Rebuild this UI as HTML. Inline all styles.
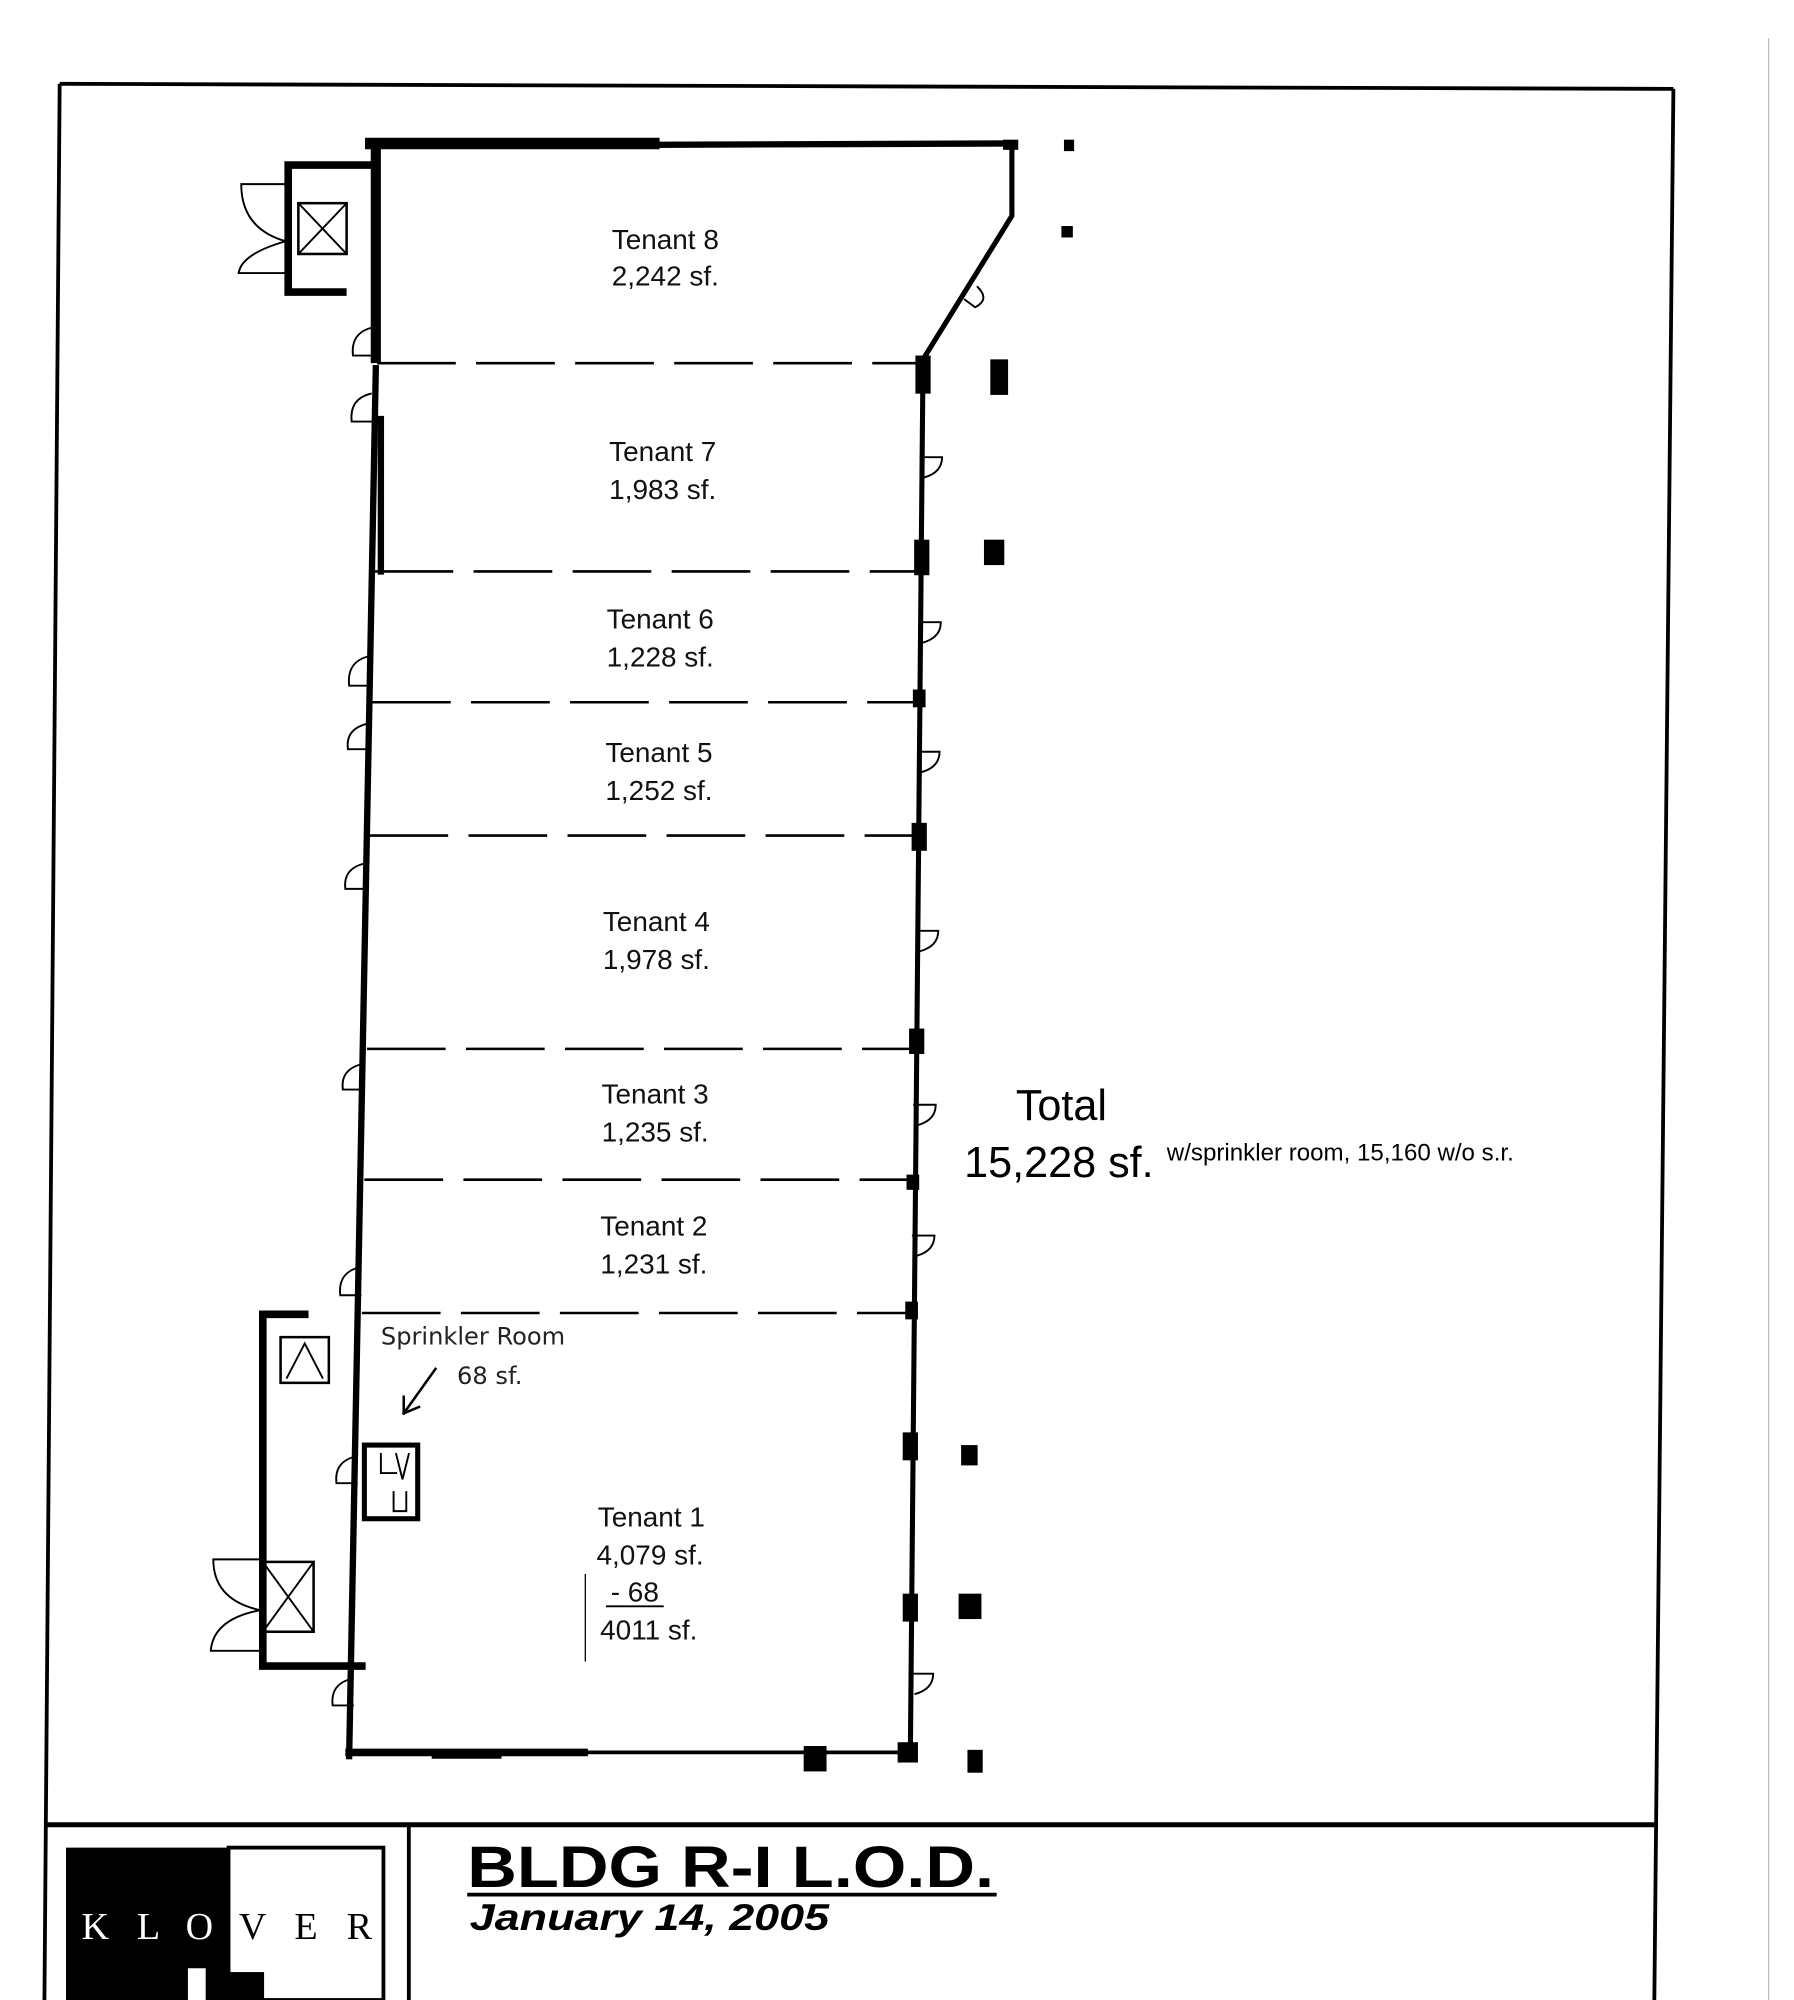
<!DOCTYPE html>
<html><head><meta charset="utf-8"><style>
html,body{margin:0;padding:0;background:#fff}
svg{display:block}
.t{font-family:"Liberation Sans Narrow","Liberation Sans",sans-serif;font-size:22px;text-anchor:middle;fill:#111}
</style></head><body>
<svg width="1794" height="2000" viewBox="0 0 1413 1575" preserveAspectRatio="none" xmlns="http://www.w3.org/2000/svg">
<rect width="1413" height="1575" fill="#fff"/>
<g stroke="#000" fill="none">
<path d="M47,66 L1318,70" stroke-width="3"/>
<path d="M47,66 L35,1575" stroke-width="3"/>
<path d="M1318,70 L1303,1575" stroke-width="3"/>
<path d="M35,1437 L1303,1437" stroke-width="4"/>
<path d="M322,1437 L322,1575" stroke-width="3"/>
<path d="M1393,30 L1393,1575" stroke="#bbb" stroke-width="1"/>
</g>
<rect x="52" y="1455" width="128" height="120" fill="#000"/>
<rect x="180" y="1455" width="122" height="120" fill="#fff" stroke="#000" stroke-width="3"/>
<rect x="180" y="1553" width="28" height="22" fill="#000"/>
<rect x="148" y="1550" width="14" height="25" fill="#fff"/>
<g font-family="Liberation Serif,serif" font-size="30" text-anchor="middle">
<text x="75" y="1527" fill="#fff">K</text><text x="117" y="1527" fill="#fff">L</text><text x="157" y="1527" fill="#fff">O</text>
<text x="199" y="1527" fill="#000">V</text><text x="241" y="1527" fill="#000">E</text><text x="283" y="1527" fill="#000">R</text>
</g>
<text x="368" y="1486" font-family="Liberation Sans,sans-serif" font-weight="bold" font-size="46" fill="#000" textLength="415" lengthAdjust="spacingAndGlyphs">BLDG R-I L.O.D.</text>
<line x1="368" y1="1492" x2="785" y2="1492" stroke="#000" stroke-width="3"/>
<text x="370" y="1520" font-family="Liberation Sans,sans-serif" font-weight="bold" font-style="italic" font-size="29" fill="#000" textLength="283" lengthAdjust="spacingAndGlyphs">January 14, 2005</text>
<g stroke="#000" fill="none" stroke-linecap="square">
<path d="M292,113 L515,113" stroke-width="9"/>
<path d="M515,114 L797,113" stroke-width="5"/>
<path d="M296,115 L296,282" stroke-width="8"/>
<path d="M797,113 L797,170 L727,283" stroke-width="4"/>
<path d="M727,283 L717,1383" stroke-width="4"/>
<path d="M296,290 L275,1383" stroke-width="5"/>
<path d="M300,330 L300,450" stroke-width="5"/>
<path d="M275,1380 L460,1380" stroke-width="6"/>
<path d="M460,1380 L720,1380" stroke-width="3"/>
<g stroke-width="2" stroke-dasharray="60,18">
<path d="M298,286 L724,286"/><path d="M296,450 L722,450"/><path d="M294,553 L721,553"/>
<path d="M292,658 L720,658"/><path d="M290,826 L719,826"/><path d="M288,929 L718,929"/><path d="M286,1034 L717,1034"/>
</g>
<path d="M296,130 L227,130 L227,230 L270,230" stroke-width="6"/>
<rect x="235" y="160" width="38" height="40" stroke-width="2"/>
<path d="M235,160 L273,200 M273,160 L235,200" stroke-width="1.5"/>
<path d="M225,145 L190,145 Q190,180 225,190 Q190,200 188,215 L225,215" stroke-width="1.5"/>
<path d="M240,1035 L207,1035 L207,1312 L285,1312" stroke-width="6"/>
<rect x="221" y="1053" width="38" height="36" stroke-width="2"/>
<path d="M226,1085 L240,1058 L254,1085" stroke-width="1.5"/>
<rect x="207" y="1230" width="40" height="55" stroke-width="2"/>
<path d="M207,1230 L247,1285 M247,1230 L207,1285" stroke-width="1.5"/>
<path d="M205,1228 L168,1228 Q168,1260 205,1268 Q168,1275 166,1300 L205,1300" stroke-width="1.5"/>
<rect x="287" y="1138" width="42" height="58" stroke-width="4"/>
<path d="M300,1145 L300,1160 L312,1160 M312,1145 L317,1165 L322,1145 M310,1175 L310,1190 L320,1190 L320,1175" stroke-width="1.5"/>
<path d="M343,1078 L318,1113 M318,1113 L318,1100 M318,1113 L330,1108" stroke-width="2"/>
<line x1="461" y1="1240" x2="461" y2="1308" stroke-width="1"/>
<line x1="478" y1="1265" x2="522" y2="1265" stroke-width="1.5"/>
<g stroke-width="1.5">
<path d="M293,258 Q276,262 278,280 L294,280"/><path d="M292,310 Q275,314 277,332 L293,332"/>
<path d="M290,517 Q273,521 275,540 L291,540"/><path d="M289,570 Q272,574 274,590 L290,590"/>
<path d="M287,680 Q270,684 272,700 L288,700"/><path d="M285,838 Q268,842 270,858 L286,858"/>
<path d="M283,998 Q266,1002 268,1020 L284,1020"/><path d="M280,1147 Q263,1151 265,1168 L281,1168"/>
<path d="M277,1322 Q260,1326 262,1343 L278,1343"/>
<path d="M725,360 L742,360 Q742,372 728,376"/><path d="M724,490 L741,490 Q741,502 727,506"/>
<path d="M723,592 L740,592 Q740,604 726,608"/><path d="M722,733 L739,733 Q739,745 725,749"/>
<path d="M720,870 L737,870 Q737,882 723,886"/><path d="M719,973 L736,973 Q736,985 722,989"/>
<path d="M718,1318 L735,1318 Q735,1330 721,1334"/>
<path d="M770,226 Q780,236 768,242 L760,236"/>
</g>
</g>
<g fill="#000">
<rect x="721" y="280" width="12" height="30"/><rect x="720" y="425" width="12" height="28"/>
<rect x="719" y="543" width="10" height="14"/><rect x="718" y="648" width="12" height="22"/>
<rect x="716" y="810" width="12" height="20"/><rect x="714" y="925" width="10" height="12"/>
<rect x="713" y="1025" width="10" height="14"/><rect x="711" y="1128" width="12" height="22"/>
<rect x="711" y="1255" width="12" height="22"/><rect x="707" y="1372" width="16" height="16"/>
<rect x="633" y="1375" width="18" height="20"/><rect x="340" y="1380" width="55" height="5"/>
<rect x="780" y="283" width="14" height="28"/><rect x="775" y="425" width="16" height="20"/>
<rect x="757" y="1138" width="13" height="16"/><rect x="755" y="1255" width="18" height="20"/>
<rect x="762" y="1378" width="12" height="18"/><rect x="838" y="110" width="8" height="9"/><rect x="836" y="178" width="9" height="9"/>
<rect x="790" y="110" width="12" height="8"/>
</g>
<text class="t" x="524" y="196">Tenant 8</text><text class="t" x="524" y="225">2,242 sf.</text>
<text class="t" x="522" y="363">Tenant 7</text><text class="t" x="522" y="393">1,983 sf.</text>
<text class="t" x="520" y="495">Tenant 6</text><text class="t" x="520" y="525">1,228 sf.</text>
<text class="t" x="519" y="600">Tenant 5</text><text class="t" x="519" y="630">1,252 sf.</text>
<text class="t" x="517" y="733">Tenant 4</text><text class="t" x="517" y="763">1,978 sf.</text>
<text class="t" x="516" y="869">Tenant 3</text><text class="t" x="516" y="899">1,235 sf.</text>
<text class="t" x="515" y="973">Tenant 2</text><text class="t" x="515" y="1003">1,231 sf.</text>
<text class="t" x="513" y="1202">Tenant 1</text><text class="t" x="512" y="1232">4,079 sf.</text>
<text class="t" x="500" y="1261">-  68</text><text class="t" x="511" y="1291">4011 sf.</text>
<text x="300" y="1059" font-family="DejaVu Sans,sans-serif" font-size="19" fill="#222">Sprinkler Room</text>
<text x="360" y="1090" font-family="DejaVu Sans,sans-serif" font-size="19" fill="#222">68 sf.</text>
<text x="836" y="882" font-family="Liberation Sans Narrow,Liberation Sans,sans-serif" font-size="34" text-anchor="middle">Total</text>
<text x="834" y="927" font-family="Liberation Sans Narrow,Liberation Sans,sans-serif" font-size="34" text-anchor="middle">15,228 sf.</text>
<text x="919" y="914" font-family="Liberation Sans,sans-serif" font-size="19">w/sprinkler room, 15,160 w/o s.r.</text>
</svg>
</body></html>
